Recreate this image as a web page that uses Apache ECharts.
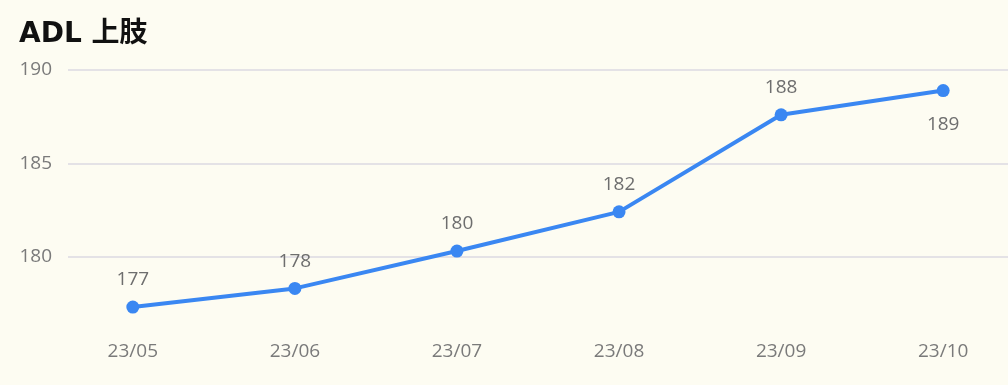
<!DOCTYPE html>
<html>
<head>
<meta charset="utf-8">
<script src="https://cdn.jsdelivr.net/npm/echarts@6/dist/echarts.min.js"></script>
<style>
  html, body { margin: 0; padding: 0; background: #fdfcf2; }
  #chart { width: 1008px; height: 385px; }
</style>
</head>
<body>
<div id="chart"></div>
<script>
// Monthly ADL upper-limb scores
const months = ['23/05', '23/06', '23/07', '23/08', '23/09', '23/10'];
const scores = [177.3, 178.3, 180.3, 182.4, 187.6, 188.9];

const chart = echarts.init(document.getElementById('chart'));
const titleFont = '"DejaVu Sans", "Noto Sans CJK SC", sans-serif';
const numFont = '"Open Sans", "Noto Sans", sans-serif';

chart.setOption({
  backgroundColor: '#fdfcf2',
  animation: false,
  title: {
    text: 'ADL 上肢',
    left: 14,
    top: 16,
    textStyle: { fontFamily: titleFont, fontSize: 28, fontWeight: 'bold', color: '#111111' }
  },
  grid: { left: 68, right: 0, top: 70, bottom: 35 },
  xAxis: {
    type: 'value',
    min: -0.4,
    max: 5.4,
    axisLine: { show: false },
    axisTick: { show: false },
    splitLine: { show: false },
    axisLabel: {
      customValues: months.map((_, i) => i),
      formatter: v => months[Math.round(v)],
      margin: -8,
      fontFamily: numFont,
      fontSize: 19,
      color: '#7a7a7a'
    }
  },
  yAxis: {
    type: 'value',
    min: 175,
    max: 190,
    interval: 5,
    axisLine: { show: false },
    axisTick: { show: false },
    axisLabel: {
      showMinLabel: false,
      margin: 16,
      fontFamily: numFont,
      fontSize: 19,
      color: '#7a7a7a'
    },
    splitLine: {
      lineStyle: { color: ['rgba(0,0,0,0)', '#e4e2e6', '#e4e2e6', '#e4e2e6'], width: 2 }
    }
  },
  series: [{
    type: 'line',
    data: scores.map((v, i) => i === scores.length - 1
      // the final point carries its label underneath the line
      ? { value: [i, v], label: { position: 'bottom', distance: 18 } }
      : [i, v]),
    symbol: 'circle',
    symbolSize: 13,
    lineStyle: { color: '#3a87f2', width: 4 },
    itemStyle: { color: '#3a87f2' },
    label: {
      show: true,
      position: 'top',
      distance: 11,
      formatter: p => Math.round(p.value[1]),
      fontFamily: numFont,
      fontSize: 19,
      color: '#6e6e6e'
    },
    emphasis: { disabled: true }
  }]
});
</script>
</body>
</html>
